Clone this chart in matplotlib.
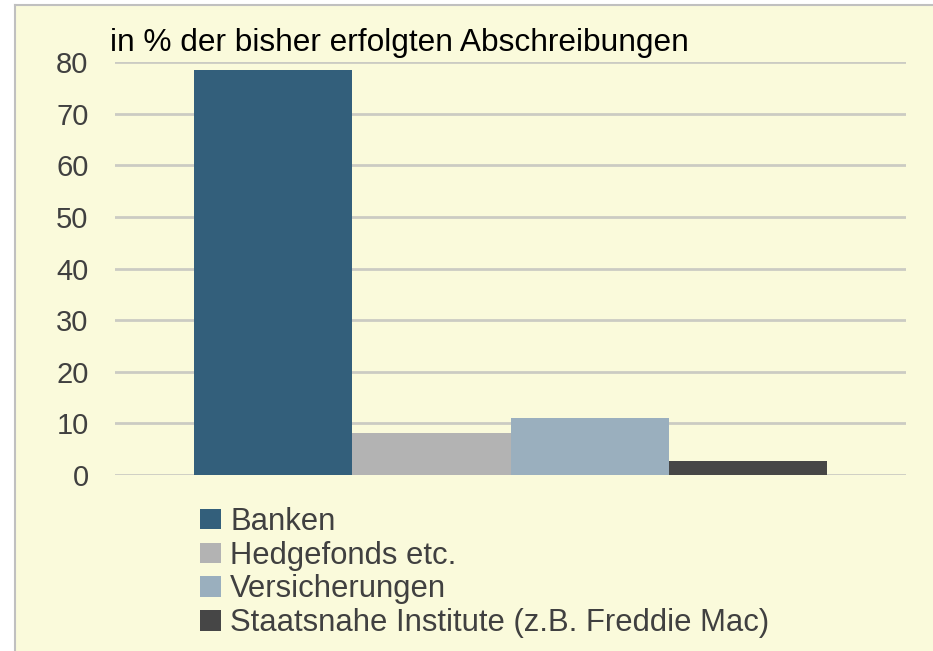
import matplotlib
matplotlib.use("Agg")
import matplotlib.pyplot as plt
from matplotlib.patches import Rectangle, Patch
import numpy as np

plt.rcParams['font.family'] = ['Liberation Sans', 'DejaVu Sans']

series = ["Banken", "Hedgefonds etc.", "Versicherungen",
          "Staatsnahe Institute (z.B. Freddie Mac)"]
values = [78.5, 8.1, 11.0, 2.7]
colors = ["#335f7b", "#b3b3b3", "#9aafbe", "#464646"]
yticks = [0, 10, 20, 30, 40, 50, 60, 70, 80]
title = "in % der bisher erfolgten Abschreibungen"

W, H = 933, 651
fig = plt.figure(figsize=(W / 100, H / 100), dpi=100, facecolor="white")

bg = "#fafadb"
fig.patches.append(Rectangle((15 / W, 0), 1 - 15 / W, 1 - 5 / H,
                             transform=fig.transFigure, facecolor=bg,
                             edgecolor="none", zorder=-10))
fig.add_artist(plt.Line2D([15 / W, 15 / W], [0, 1 - 5 / H], color="#c0c0c0",
                          lw=1.5, transform=fig.transFigure))
fig.add_artist(plt.Line2D([15 / W, 1], [1 - 5 / H, 1 - 5 / H], color="#c0c0c0",
                          lw=1.5, transform=fig.transFigure))

left, right = 115 / W, 906 / W
bottom, top = 1 - 475 / H, 1 - 62 / H
ax = fig.add_axes([left, bottom, right - left, top - bottom])
ax.set_facecolor("none")

n = len(series)
group = 0.8
bw = group / n
for i, (s, v, c) in enumerate(zip(series, values, colors)):
    x = -group / 2 + bw * (i + 0.5)
    ax.bar(x, v, width=bw, color=c, label=s, zorder=3)

ax.set_xlim(-0.5, 0.5)
ax.set_ylim(0, 80)
ax.set_yticks(yticks)
ax.set_yticklabels([str(t) for t in yticks], fontsize=21, color="#404040")
ax.set_xticks([])
ax.tick_params(axis="y", length=0, pad=19)
for sp in ax.spines.values():
    sp.set_visible(False)
ax.yaxis.grid(True, color="#cbcbc3", lw=2, zorder=0)
ax.set_axisbelow(True)

fig.text(110 / W, 1 - 51 / H, title, fontsize=22.8, color="black",
         ha="left", va="baseline")

handles = [Patch(facecolor=c, edgecolor="none") for c in colors]
leg = fig.legend(handles, series, loc="upper left",
                 bbox_to_anchor=(200 / W, 1 - 507 / H), frameon=False,
                 fontsize=22.3, handlelength=0.68, handleheight=0.65,
                 handletextpad=0.29, labelspacing=0.12, borderpad=0,
                 borderaxespad=0)
for t in leg.get_texts():
    t.set_color("#404040")

fig.savefig("out.png", dpi=100, facecolor="white")
